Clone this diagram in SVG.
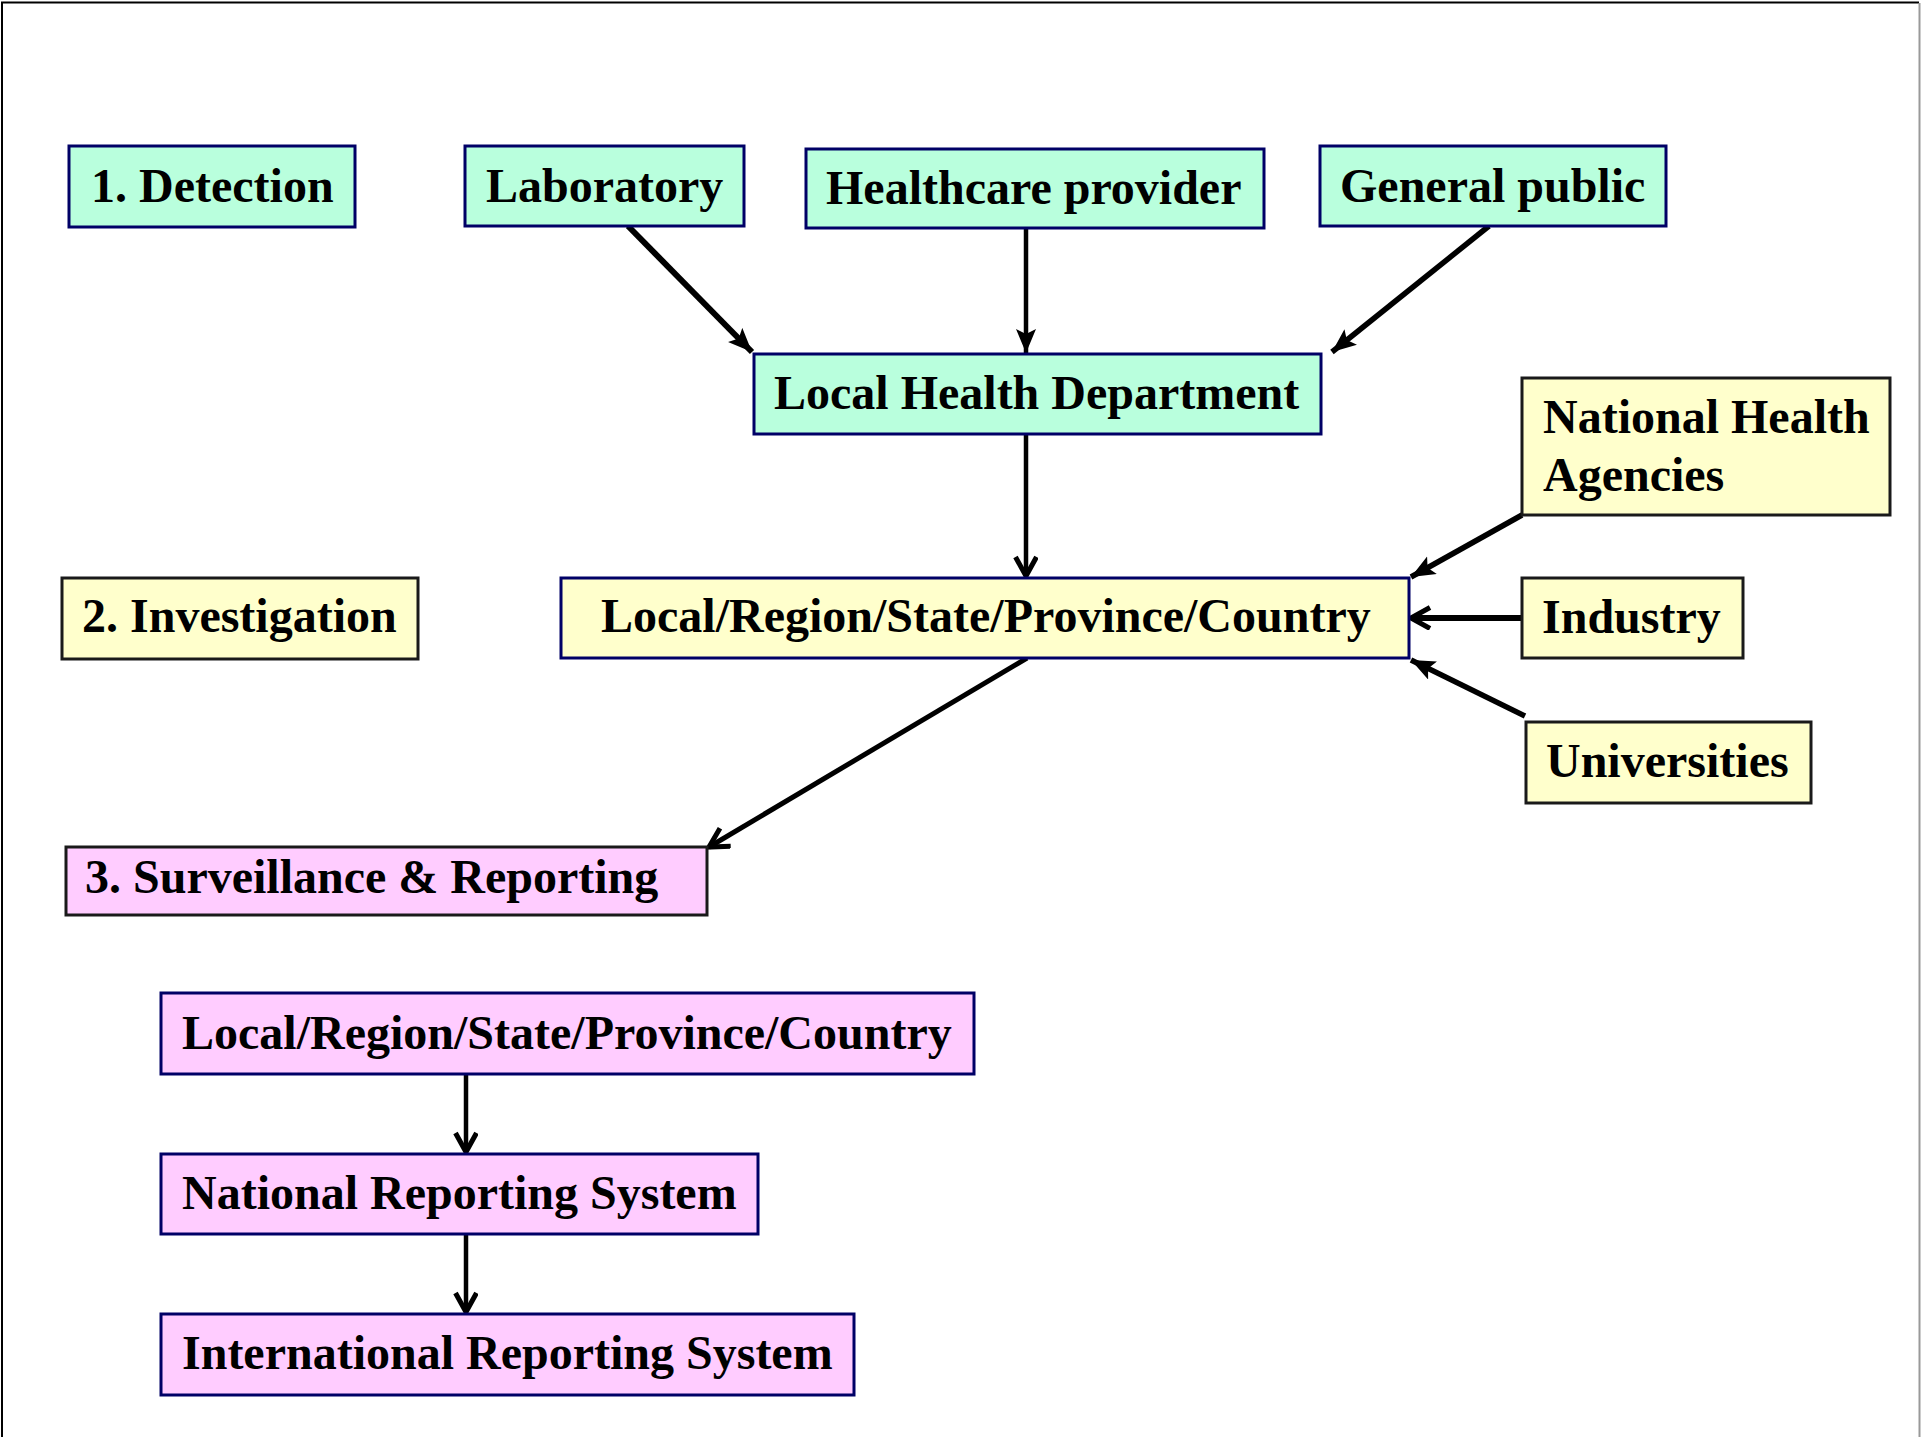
<svg xmlns="http://www.w3.org/2000/svg" width="1921" height="1437" viewBox="0 0 1921 1437">
<defs>
<style>
.t{font-family:"Liberation Serif","Times New Roman",serif;font-weight:bold;font-size:48px;fill:#000}
.g{fill:#B9FFDD;stroke:#000066;stroke-width:3}
.y{fill:#FFFFCC;stroke:#000066;stroke-width:3}
.yk{fill:#FFFFCC;stroke:#1a1a1a;stroke-width:3}
.p{fill:#FFCCFF;stroke:#000066;stroke-width:3}
.c{fill:none;stroke:#000;stroke-linecap:butt}
</style>
<marker id="fa" markerUnits="userSpaceOnUse" markerWidth="28" markerHeight="22" refX="24" refY="10" orient="auto">
<path d="M0,0 L24,10 L0,20 L5,10 z" fill="#000"/>
</marker>
<marker id="oa" markerUnits="userSpaceOnUse" markerWidth="28" markerHeight="28" refX="21" refY="12" orient="auto">
<path d="M2,1.5 L21,12 L2,22.5" fill="none" stroke="#000" stroke-width="5" stroke-linejoin="miter"/>
</marker>
</defs>
<rect width="1921" height="1437" fill="#fff"/>
<path d="M2,1440 L2,2.5 L1919,2.5" fill="none" stroke="#000" stroke-width="2"/>
<path d="M1919.5,3 L1919.5,1440" fill="none" stroke="#999" stroke-width="2"/>

<g id="connectors">
<line class="c" x1="628" y1="226" x2="752" y2="352" stroke-width="6" marker-end="url(#fa)"/>
<line class="c" x1="1026" y1="228" x2="1026" y2="353" stroke-width="4.5" marker-end="url(#fa)"/>
<line class="c" x1="1489" y1="226" x2="1332" y2="352" stroke-width="5.5" marker-end="url(#fa)"/>
<line class="c" x1="1026" y1="434" x2="1026" y2="576" stroke-width="4.5" marker-end="url(#oa)"/>
<line class="c" x1="1522" y1="515" x2="1411" y2="577" stroke-width="5.5" marker-end="url(#fa)"/>
<line class="c" x1="1522" y1="618" x2="1411" y2="618" stroke-width="6" marker-end="url(#oa)"/>
<line class="c" x1="1525" y1="716" x2="1411" y2="660" stroke-width="5.5" marker-end="url(#fa)"/>
<line class="c" x1="1027" y1="658" x2="709" y2="847" stroke-width="5" marker-end="url(#oa)"/>
<line class="c" x1="466" y1="1074" x2="466" y2="1152" stroke-width="4.5" marker-end="url(#oa)"/>
<line class="c" x1="466" y1="1234" x2="466" y2="1312" stroke-width="4.5" marker-end="url(#oa)"/>
</g>

<g id="detection"><rect class="g" x="69" y="146" width="286" height="81"/><text class="t" x="91" y="202">1. Detection</text></g>
<g id="laboratory"><rect class="g" x="465" y="146" width="279" height="80"/><text class="t" x="486" y="202">Laboratory</text></g>
<g id="healthcare"><rect class="g" x="806" y="149" width="458" height="79"/><text class="t" x="826" y="204">Healthcare provider</text></g>
<g id="public"><rect class="g" x="1320" y="146" width="346" height="80"/><text class="t" x="1340" y="202">General public</text></g>
<g id="lhd"><rect class="g" x="754" y="354" width="567" height="80"/><text class="t" x="774" y="409">Local Health Department</text></g>
<g id="nha"><rect class="yk" x="1522" y="378" width="368" height="137"/><text class="t" x="1543" y="433">National Health</text><text class="t" x="1543" y="491">Agencies</text></g>
<g id="investigation"><rect class="yk" x="62" y="578" width="356" height="81"/><text class="t" x="82" y="632">2. Investigation</text></g>
<g id="region1"><rect class="y" x="561" y="578" width="848" height="80"/><text class="t" x="601" y="632">Local/Region/State/Province/Country</text></g>
<g id="industry"><rect class="yk" x="1522" y="578" width="221" height="80"/><text class="t" x="1542" y="633">Industry</text></g>
<g id="universities"><rect class="yk" x="1526" y="722" width="285" height="81"/><text class="t" x="1546" y="777">Universities</text></g>
<g id="surveillance"><rect class="yk" x="66" y="847" width="641" height="68" style="fill:#FFCCFF"/><text class="t" x="85" y="893">3. Surveillance &amp; Reporting</text></g>
<g id="region2"><rect class="p" x="161" y="993" width="813" height="81"/><text class="t" x="182" y="1049">Local/Region/State/Province/Country</text></g>
<g id="national"><rect class="p" x="161" y="1154" width="597" height="80"/><text class="t" x="182" y="1209">National Reporting System</text></g>
<g id="international"><rect class="p" x="161" y="1314" width="693" height="81"/><text class="t" x="182" y="1369">International Reporting System</text></g>
</svg>
